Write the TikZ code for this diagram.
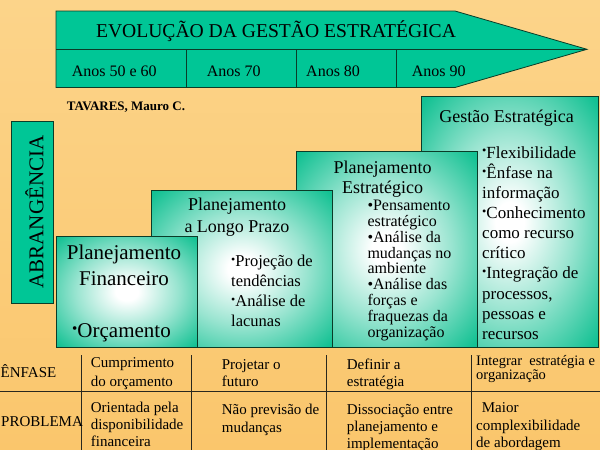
\documentclass[tikz,border=0pt]{standalone}
\usepackage{fontspec}
\setmainfont{Liberation Serif}
\usepackage{graphicx}
\definecolor{bgtop}{RGB}{252,212,138}
\definecolor{bgbot}{RGB}{250,198,108}
\definecolor{bgreen}{RGB}{0,198,150}
\definecolor{boxgreen}{RGB}{0,188,138}
\definecolor{lineclr}{RGB}{10,60,40}
\definecolor{tblline}{RGB}{40,40,30}
\pgfdeclareradialshading{boxshade}{\pgfpoint{0bp}{0bp}}{color(0bp)=(white); color(4bp)=(white); color(18bp)=(boxgreen!40!white); color(34bp)=(boxgreen!92!white); color(44bp)=(boxgreen); color(50bp)=(boxgreen)}
\newcommand\LinesL[1]{\vtop{\halign{##\hfil\cr#1\crcr}}}
\newcommand\LinesC[1]{\vtop{\halign{\hfil##\hfil\cr#1\crcr}}}
\newcommand\rbul{\raisebox{0.2em}{\scalebox{0.72}{•}}}
\tikzset{
  bannersty/.style={draw=lineclr, line width=0.8pt, fill=bgreen},
  boxsty/.style={draw=lineclr, line width=0.8pt, shade, shading=boxshade},
  tline/.style={draw=tblline, line width=0.8pt},
  txt/.style={inner sep=0pt, anchor=base west, text=black},
  ctxt/.style={inner sep=0pt, anchor=base, text=black},
  fA/.style={font=\fontsize{21}{25.7}\selectfont},
  fB/.style={font=\fontsize{18}{22}\selectfont},
  fT/.style={font=\fontsize{15}{17.5}\selectfont}
}
\begin{document}
\begin{tikzpicture}[x=1pt,y=-1pt]
\useasboundingbox (0,0) rectangle (600,450);
\shade[top color=bgtop, bottom color=bgbot] (0,0) rectangle (600,450);
% banner
\coordinate (tipL) at (56,49.3);
\coordinate (tip) at (587,49.3);
\draw[bannersty] (56,11) -- (455,11) -- (tip) -- (455,87.5) -- (56,87.5) -- cycle;
\draw[draw=lineclr, line width=0.8pt] (tipL) -- (tip);
\foreach \xx in {186,296.6,396} \draw[draw=lineclr, line width=0.8pt] (\xx,49.3) -- (\xx,87.5);
\node[ctxt, font=\fontsize{19.6}{23}\selectfont] (title) at (276,37.3) {EVOLUÇÃO DA GESTÃO ESTRATÉGICA};
\node[txt, font=\fontsize{16}{19}\selectfont] (a5060) at (71.6,76) {Anos 50 e 60};
\node[txt, font=\fontsize{16}{19}\selectfont] (a70) at (206.7,76) {Anos 70};
\node[txt, font=\fontsize{16}{19}\selectfont] (a80) at (306,76) {Anos 80};
\node[txt, font=\fontsize{16}{19}\selectfont] (a90) at (411.7,76) {Anos 90};
% author
\node[txt, font=\bfseries\fontsize{13}{15}\selectfont] (tav) at (66.7,110.5) {TAVARES, Mauro C.};
% abrangencia
\draw[bannersty] (11.5,121) rectangle (53,303);
\node[rotate=90, inner sep=0pt, anchor=base, fA] (abr) at (43.3,212) {ABRANGÊNCIA};
% boxes (back to front)
\path[boxsty] (421,96.7) rectangle (598.5,347.3);
\path[boxsty] (296,151) rectangle (477,347.3);
\path[boxsty] (151.7,190) rectangle (332.7,347.3);
\path[boxsty] (56,236) rectangle (197.7,347.3);
% box 4
\node[ctxt, fB] (g4t) at (506.5,122.7) {Gestão Estratégica};
\node[txt, font=\fontsize{17}{20.1}\selectfont] (g4b) at (482,158.3) {\LinesL{\rbul Flexibilidade\cr \rbul Ênfase na\cr informação\cr \rbul Conhecimento\cr como recurso\cr crítico\cr \rbul Integração de\cr processos,\cr pessoas e\cr recursos}};
% box 3
\node[ctxt, font=\fontsize{18}{20}\selectfont] (g3t) at (382.5,173.3) {\LinesC{Planejamento\cr Estratégico}};
\node[txt, font=\fontsize{16}{15.8}\selectfont] (g3b) at (367.3,210.7) {\LinesL{•Pensamento\cr estratégico\cr •Análise da\cr mudanças no\cr ambiente\cr •Análise das\cr forças e\cr fraquezas da\cr organização}};
% box 2
\node[ctxt, fB] (g2t) at (237,210.7) {\LinesC{Planejamento\cr a Longo Prazo}};
\node[txt, font=\fontsize{16.5}{20}\selectfont] (g2b) at (231,266.7) {\LinesL{\rbul Projeção de\cr tendências\cr \rbul Análise de\cr lacunas}};
% box 1
\node[ctxt, fA] (g1t) at (124,259.3) {\LinesC{Planejamento\cr Financeiro}};
\node[txt, fA] (g1b) at (72,337.3) {\rbul Orçamento};
% table
\coordinate (hl) at (0,391.7);
\coordinate (hr) at (600,391.7);
\draw[tline] (hl) -- (hr);
\foreach \xx in {81.7,191.7,326.7,471.7} \draw[tline] (\xx,355) -- (\xx,450);
\node[txt, fT] (enf) at (0.5,377.3) {ÊNFASE};
\node[txt, fT] (prob) at (1,426.7) {PROBLEMA};
\node[txt, font=\fontsize{15}{18.4}\selectfont] (c1a) at (90.7,367.8) {\LinesL{Cumprimento\cr do orçamento}};
\node[txt, font=\fontsize{15}{17}\selectfont] (c1b) at (90.7,412.6) {\LinesL{Orientada pela\cr disponibilidade\cr financeira}};
\node[txt, font=\fontsize{15}{16.7}\selectfont] (c2a) at (221.7,369.5) {\LinesL{Projetar o\cr futuro}};
\node[txt, fT] (c2b) at (221.7,414.5) {\LinesL{Não previsão de\cr mudanças}};
\node[txt, font=\fontsize{15}{16.7}\selectfont] (c3a) at (346.7,369.5) {\LinesL{Definir a\cr estratégia}};
\node[txt, font=\fontsize{15}{16.9}\selectfont] (c3b) at (346.7,414.2) {\LinesL{Dissociação entre\cr planejamento e\cr implementação}};
\node[txt, font=\fontsize{14.5}{14.5}\selectfont] (c4a) at (476,365) {\LinesL{Integrar\ \ estratégia e\cr organização}};
\node[txt, fT] (c4b) at (476,412.8) {\LinesL{\hspace{5.7pt}Maior\cr complexibilidade\cr de abordagem}};
\end{tikzpicture}
\end{document}
